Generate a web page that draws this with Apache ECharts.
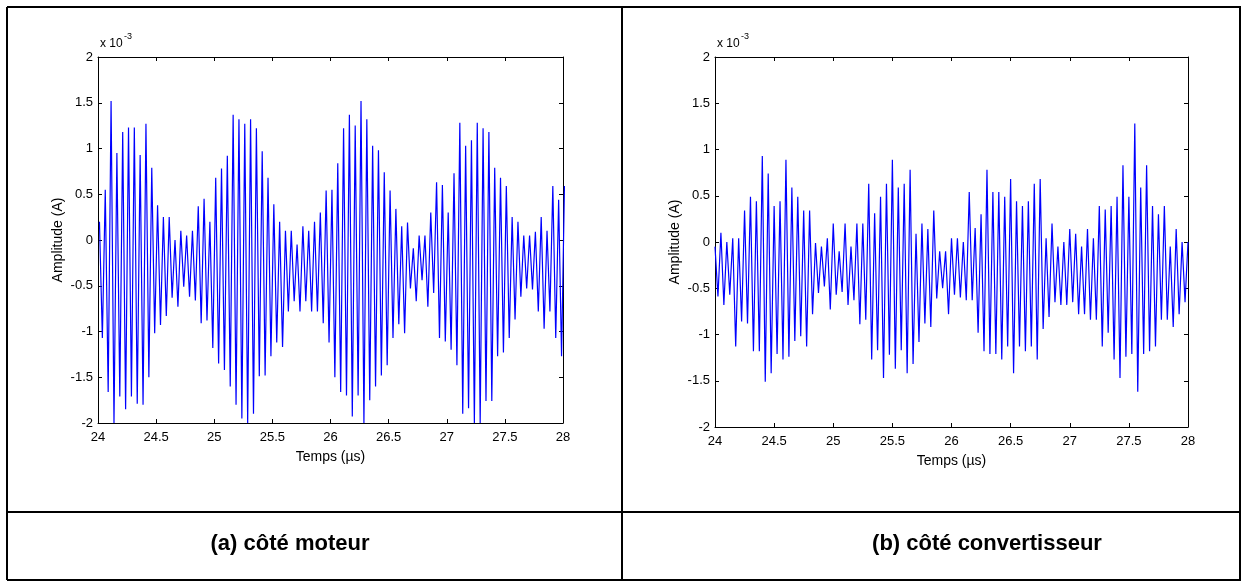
<!DOCTYPE html>
<html>
<head>
<meta charset="utf-8">
<script src="https://cdn.jsdelivr.net/npm/echarts@6/dist/echarts.min.js"></script>
<style>
  html, body { margin: 0; padding: 0; background: #fff; }
  #chart { width: 1246px; height: 588px; }
</style>
</head>
<body>
<div id="chart"></div>
<script>
// Current amplitude (x 10^-3 A), one value per half period of the 20 MHz oscillation.
// Peaks and troughs alternate; the sample step is half a period (0.025 µs).
const sampleStep = 0.025;

// (a) motor side
const motorStart = 24.0125;
const motorPeaks = [
  0.2, 0.55, 1.52, 0.95, 1.18, 1.23, 1.23, 0.93, 1.27, 0.79,
  0.38, 0.25, 0.25, 0.0, 0.1, 0.05, 0.1, 0.37, 0.45, 0.2,
  0.68, 0.78, 0.92, 1.37, 1.32, 1.27, 1.32, 1.22, 0.97, 0.68,
  0.39, 0.2, 0.1, 0.1, -0.05, 0.15, 0.1, 0.2, 0.3, 0.54,
  0.55, 0.84, 1.22, 1.37, 1.25, 1.52, 1.32, 1.03, 0.98, 0.74,
  0.54, 0.34, 0.15, 0.19, -0.09, 0.05, 0.05, 0.3, 0.63, 0.6,
  0.3, 0.73, 1.28, 1.03, 1.09, 1.28, 1.22, 1.18, 0.79, 0.68,
  0.59, 0.25, 0.2, 0.05, 0.05, 0.09, 0.25, 0.1, 0.59, 0.44,
  0.59
];
const motorTroughs = [
  -1.07, -1.66, -2.0, -1.71, -1.85, -1.71, -1.79, -1.8, -1.5, -1.02,
  -0.93, -0.83, -0.63, -0.73, -0.51, -0.62, -0.66, -0.91, -0.88, -1.18,
  -1.35, -1.42, -1.6, -1.8, -1.95, -2.0, -1.9, -1.49, -1.48, -1.27,
  -1.12, -1.17, -0.78, -0.67, -0.78, -0.67, -0.78, -0.78, -0.91, -1.12,
  -1.5, -1.66, -1.7, -1.93, -1.7, -2.0, -1.75, -1.6, -1.48, -1.37,
  -1.07, -0.92, -1.02, -0.53, -0.67, -0.44, -0.73, -0.58, -1.07, -1.11,
  -1.2, -1.37, -1.9, -1.84, -2.0, -2.0, -1.76, -1.76, -1.27, -1.23,
  -1.07, -0.87, -0.62, -0.53, -0.54, -0.78, -0.97, -0.78, -1.07, -1.27
];

// (b) converter side
const convStart = 24.0;
const convPeaks = [
  -0.05, 0.1, 0.0, 0.04, 0.04, 0.34, 0.49, 0.44, 0.93, 0.74,
  0.39, 0.44, 0.89, 0.59, 0.49, 0.34, 0.34, -0.01, -0.05, 0.04,
  0.2, -0.1, 0.2, -0.05, 0.2, 0.2, 0.63, 0.31, 0.49, 0.63,
  0.89, 0.59, 0.63, 0.78, 0.09, 0.2, 0.14, 0.34, -0.1, -0.1,
  0.04, 0.04, 0.0, 0.54, 0.15, 0.3, 0.78, 0.54, 0.54, 0.49,
  0.68, 0.44, 0.39, 0.44, 0.63, 0.68, 0.04, 0.2, -0.05, 0.0,
  0.14, 0.09, -0.05, 0.14, 0.04, 0.39, 0.35, 0.39, 0.49, 0.83,
  0.49, 1.28, 0.59, 0.83, 0.39, 0.3, 0.39, -0.05, 0.14, 0.0,
  0.0
];
const convTroughs = [
  -0.59, -0.68, -0.57, -1.13, -0.86, -0.88, -1.18, -1.18, -1.51, -1.42,
  -1.21, -1.27, -1.24, -1.07, -1.02, -1.13, -0.78, -0.55, -0.48, -0.73,
  -0.57, -0.54, -0.68, -0.63, -0.89, -0.84, -1.27, -1.17, -1.47, -1.22,
  -1.37, -1.17, -1.42, -1.32, -1.08, -0.88, -0.92, -0.61, -0.5, -0.78,
  -0.57, -0.6, -0.63, -0.63, -0.98, -1.18, -1.21, -1.21, -1.27, -1.13,
  -1.42, -1.13, -1.18, -1.13, -1.27, -0.94, -0.81, -0.65, -0.68, -0.68,
  -0.65, -0.78, -0.78, -0.84, -0.84, -1.13, -0.98, -1.27, -1.47, -1.24,
  -1.21, -1.62, -1.21, -1.18, -1.13, -0.84, -0.84, -0.92, -0.78, -0.65
];

// Axis settings
const timeMin = 24, timeMax = 28, timeStep = 0.5;
const ampMin = -2, ampMax = 2, ampStep = 0.5;
const xTitle = 'Temps (µs)';
const yTitle = 'Amplitude (A)';
const captions = ['(a) côté moteur', '(b) côté convertisseur'];

// Interleave peaks and troughs into [time, value] pairs
function buildSignal(start, peaks, troughs) {
  const out = [];
  for (let i = 0; i < peaks.length; i++) {
    out.push([start + 2 * i * sampleStep, peaks[i]]);
    if (i < troughs.length) out.push([start + (2 * i + 1) * sampleStep, troughs[i]]);
  }
  return out;
}

const FONT = '"Liberation Sans", Arial, Helvetica, sans-serif';
const black = '#000';

function xAxes(gridIndex) {
  const common = {
    gridIndex, type: 'value', min: timeMin, max: timeMax, interval: timeStep,
    axisLine: { show: true, onZero: false, lineStyle: { color: black, width: 1 } },
    axisTick: { show: true, inside: true, length: 4, lineStyle: { color: black, width: 1 } },
    splitLine: { show: false }
  };
  return [
    Object.assign({}, common, {
      position: 'bottom',
      axisLabel: { color: black, fontSize: 13, fontFamily: FONT, margin: 8 },
      name: xTitle, nameLocation: 'middle', nameGap: 27,
      nameTextStyle: { color: black, fontSize: 14, fontFamily: FONT }
    }),
    Object.assign({}, common, { position: 'top', axisLabel: { show: false } })
  ];
}

function yAxes(gridIndex) {
  const common = {
    gridIndex, type: 'value', min: ampMin, max: ampMax, interval: ampStep,
    axisLine: { show: true, onZero: false, lineStyle: { color: black, width: 1 } },
    axisTick: { show: true, inside: true, length: 4, lineStyle: { color: black, width: 1 } },
    splitLine: { show: false }
  };
  return [
    Object.assign({}, common, {
      position: 'left',
      axisLabel: { color: black, fontSize: 13, fontFamily: FONT, margin: 5 },
      name: yTitle, nameLocation: 'middle', nameGap: 33, nameRotate: 90,
      nameTextStyle: { color: black, fontSize: 14, fontFamily: FONT }
    }),
    Object.assign({}, common, { position: 'right', axisLabel: { show: false } })
  ];
}

function multiplier(x, y) {
  return [
    { type: 'text', left: x, top: y, style: { text: 'x 10', font: '12px ' + FONT, fill: black } },
    { type: 'text', left: x + 24, top: y - 6, style: { text: '-3', font: '9px ' + FONT, fill: black } }
  ];
}

function hLine(x1, x2, y) {
  return { type: 'line', shape: { x1, y1: y, x2, y2: y }, style: { stroke: black, lineWidth: 2 } };
}
function vLine(x, y1, y2) {
  return { type: 'line', shape: { x1: x, y1, x2: x, y2 }, style: { stroke: black, lineWidth: 2 } };
}

const chart = echarts.init(document.getElementById('chart'), null, { renderer: 'canvas' });

chart.setOption({
  animation: false,
  backgroundColor: '#fff',
  grid: [
    { left: 98, top: 57, width: 465, height: 366 },
    { left: 715, top: 57, width: 473, height: 370 }
  ],
  xAxis: [...xAxes(0), ...xAxes(1)],
  yAxis: [...yAxes(0), ...yAxes(1)],
  series: [
    {
      type: 'line', xAxisIndex: 0, yAxisIndex: 0,
      data: buildSignal(motorStart, motorPeaks, motorTroughs),
      showSymbol: false, clip: true,
      lineStyle: { color: '#0000ff', width: 1.2 }
    },
    {
      type: 'line', xAxisIndex: 2, yAxisIndex: 2,
      data: buildSignal(convStart, convPeaks, convTroughs),
      showSymbol: false, clip: true,
      lineStyle: { color: '#0000ff', width: 1.2 }
    }
  ],
  graphic: [
    // table frame
    hLine(7, 1241, 7),
    hLine(7, 1241, 580),
    vLine(7, 7, 580),
    vLine(1240, 7, 580),
    vLine(622, 7, 580),
    hLine(7, 1241, 512),
    // exponent labels
    ...multiplier(100, 38),
    ...multiplier(717, 38),
    // captions
    {
      type: 'text', x: 290, y: 544,
      style: { text: captions[0], font: 'bold 22px ' + FONT, fill: black, align: 'center', verticalAlign: 'middle' }
    },
    {
      type: 'text', x: 987, y: 544,
      style: { text: captions[1], font: 'bold 22px ' + FONT, fill: black, align: 'center', verticalAlign: 'middle' }
    }
  ]
});
</script>
</body>
</html>
